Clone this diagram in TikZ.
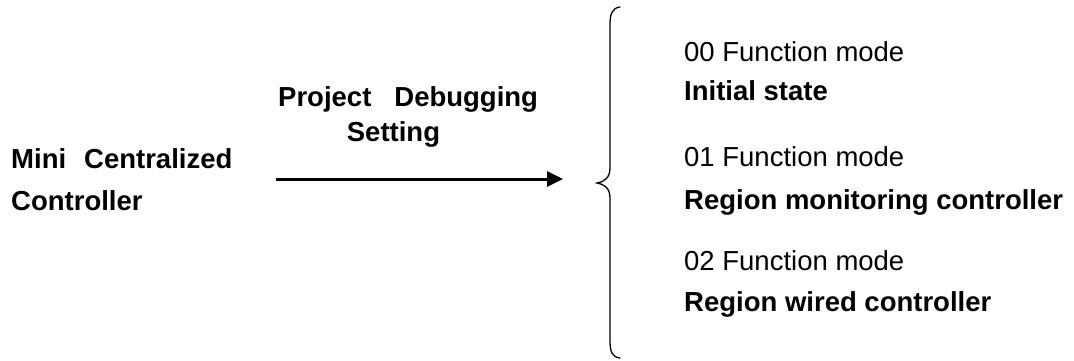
\documentclass[tikz,border=0pt]{standalone}
\usepackage{fontspec}
\setmainfont{Liberation Sans}
\usetikzlibrary{arrows.meta}
\begin{document}
\begin{tikzpicture}[x=1pt,y=-1pt,
  lbl/.style={anchor=base west,inner sep=0pt,font=\fontsize{27.5}{33}\selectfont},
  blbl/.style={lbl,font=\fontsize{27.5}{33}\selectfont\bfseries},
  conn/.style={line width=3pt,-{Triangle[length=16pt,width=15pt]}},
  brace/.style={line width=1.3pt,line cap=round}]
\useasboundingbox[fill=white] (0,0) rectangle (1074,361);
\node[blbl] (mini) at (11,168) {Mini\hspace{18pt}Centralized};
\node[blbl] (ctrl) at (11,210) {Controller};
\node[blbl] (proj) at (278,106.7) {Project\hspace{23pt}Debugging};
\node[blbl] (sett) at (346.7,141.7) {Setting};
\coordinate (a0) at (276,179);
\coordinate (a1) at (563,179);
\draw[conn] (a0) -- (a1);
\draw[brace] (620,7) .. controls (612,8) and (610,14) .. (610,25) -- (610,168)
  .. controls (610,178) and (604,182) .. (597,183)
  .. controls (604,184) and (610,188) .. (610,198) -- (610,340)
  .. controls (610,352) and (612,357) .. (620,358);
\node[lbl] (m0) at (684,61.7) {00 Function mode};
\node[blbl] (s0) at (684,100) {Initial state};
\node[lbl] (m1) at (684,166.7) {01 Function mode};
\node[blbl] (s1) at (684,209) {Region monitoring controller};
\node[lbl] (m2) at (684,270) {02 Function mode};
\node[blbl] (s2) at (684,311.7) {Region wired controller};
\end{tikzpicture}
\end{document}
